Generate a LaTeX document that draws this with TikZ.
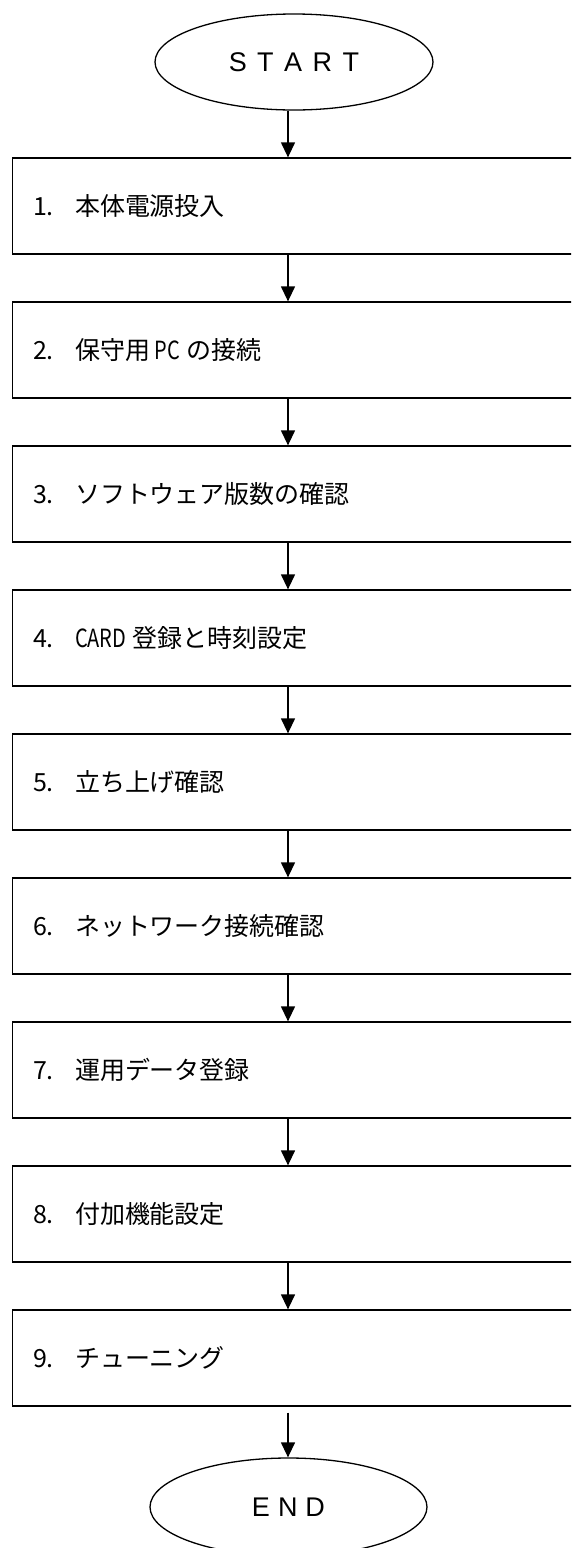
\documentclass[tikz,border=0pt]{standalone}
\usepackage{fontspec}
\usepackage{graphicx}
\usetikzlibrary{shapes.geometric,arrows.meta}
\newfontfamily\jpfont{Noto Sans CJK JP}
\newfontfamily\latfont{Liberation Sans}
\newcommand\narrowlat[1]{\scalebox{0.8}[1]{#1}}
\newcommand\numlbl[1]{\makebox[42pt][l]{#1}}
\tikzset{
  stepbox/.style={draw, rectangle, line width=1.3pt, inner xsep=20.5pt, inner ysep=0pt,
    text width=566.5pt, minimum height=96pt, align=left,
    font=\jpfont\fontsize{25pt}{30pt}\selectfont},
  term/.style={draw, ellipse, line width=1.3pt, inner sep=0pt,
    font=\latfont\fontsize{27pt}{32pt}\selectfont},
  flow/.style={line width=1.3pt, -{Triangle[length=15pt,width=14pt]}}
}
\begin{document}
\begin{tikzpicture}[x=1pt,y=-1pt]
\useasboundingbox (0,0) rectangle (571,1548);
\clip (0,0) rectangle (571,1548);
\coordinate (ax) at (288,0);
\node[term, minimum width=278pt, minimum height=96pt] (start) at (294,62)
  {S\hspace{10.5pt}T\hspace{10.5pt}A\hspace{10.5pt}R\hspace{10.5pt}T};
\node[stepbox] (b1) at (316.25,206)  {\numlbl{1.}本体電源投入};
\node[stepbox] (b2) at (316.25,350)  {\numlbl{2.}保守用\hspace{5pt}\narrowlat{PC}\hspace{6pt}の接続};
\node[stepbox] (b3) at (316.25,494)  {\numlbl{3.}ソフトウェア版数の確認};
\node[stepbox] (b4) at (316.25,638)  {\numlbl{4.}\narrowlat{CARD}\hspace{6pt}登録と時刻設定};
\node[stepbox] (b5) at (316.25,782)  {\numlbl{5.}立ち上げ確認};
\node[stepbox] (b6) at (316.25,926)  {\numlbl{6.}ネットワーク接続確認};
\node[stepbox] (b7) at (316.25,1070) {\numlbl{7.}運用データ登録};
\node[stepbox] (b8) at (316.25,1214) {\numlbl{8.}付加機能設定};
\node[stepbox] (b9) at (316.25,1358) {\numlbl{9.}チューニング};
\node[term, minimum width=277pt, minimum height=98pt] (end) at (288.5,1507)
  {E\hspace{8pt}N\hspace{8pt}D};
\draw[flow] (start.south -| ax) -- (b1.north -| ax);
\draw[flow] (b1.south -| ax) -- (b2.north -| ax);
\draw[flow] (b2.south -| ax) -- (b3.north -| ax);
\draw[flow] (b3.south -| ax) -- (b4.north -| ax);
\draw[flow] (b4.south -| ax) -- (b5.north -| ax);
\draw[flow] (b5.south -| ax) -- (b6.north -| ax);
\draw[flow] (b6.south -| ax) -- (b7.north -| ax);
\draw[flow] (b7.south -| ax) -- (b8.north -| ax);
\draw[flow] (b8.south -| ax) -- (b9.north -| ax);
\draw[flow, shorten <=6pt] (b9.south -| ax) -- (end.north -| ax);
\end{tikzpicture}
\end{document}
